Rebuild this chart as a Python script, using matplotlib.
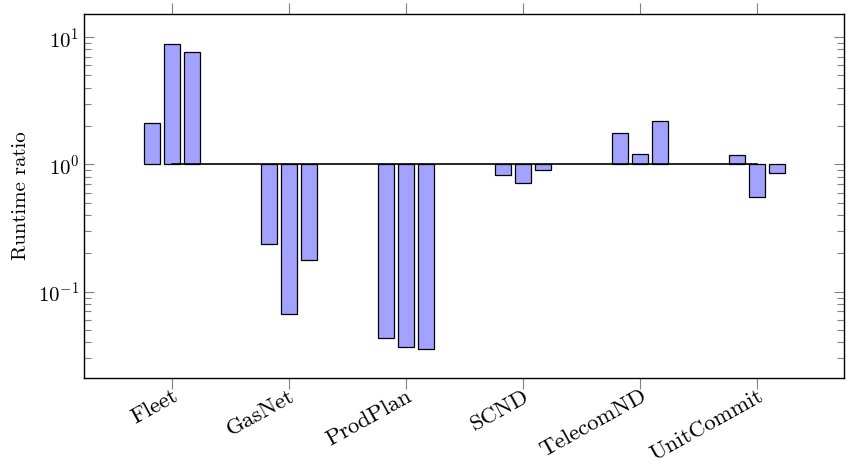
import numpy as np
import matplotlib
matplotlib.use("Agg")
import matplotlib.pyplot as plt
from matplotlib.ticker import LogLocator, NullFormatter

# Runtime ratios per instance family, three runs each
families = ["Fleet", "GasNet", "ProdPlan", "SCND", "TelecomND", "UnitCommit"]
run1 = [2.11, 0.237, 0.0434, 0.819, 1.77, 1.19]
run2 = [8.76, 0.0663, 0.0366, 0.713, 1.21, 0.55]
run3 = [7.66, 0.179, 0.0356, 0.908, 2.19, 0.854]

plt.rcParams["font.family"] = "serif"
plt.rcParams["font.serif"] = ["cmr10"]
plt.rcParams["mathtext.fontset"] = "cm"
plt.rcParams["axes.formatter.use_mathtext"] = True
plt.rcParams["font.size"] = 15

fig = plt.figure(figsize=(8.52, 4.66), dpi=100)
ax = fig.add_axes([84 / 852, 1 - 378 / 466, 760 / 852, 364 / 466])

x = np.arange(len(families))
width = 0.137
offset = 0.171
fill = "#a3a3ff"

# bars grow from 1 on the log axis
for k, vals in enumerate([run1, run2, run3]):
    vals = np.array(vals)
    ax.bar(x + (k - 1) * offset, vals - 1, bottom=1, width=width,
           color=fill, edgecolor="black", linewidth=0.9, zorder=2)

ax.plot([x[0], x[-1]], [1, 1], color="black", linewidth=1.2, zorder=3)

ax.set_yscale("log")
ax.set_ylim(0.021, 15.2)
ax.set_xlim(-0.75, len(families) - 1 + 0.74)

ax.yaxis.set_major_locator(LogLocator(base=10, numticks=10))
ax.yaxis.set_minor_locator(LogLocator(base=10, subs=np.arange(2, 10), numticks=10))
ax.yaxis.set_minor_formatter(NullFormatter())
ax.tick_params(axis="y", which="both", direction="in", left=True, right=True,
               color="#808080")
ax.tick_params(axis="y", which="major", length=7, width=0.8)
ax.tick_params(axis="y", which="minor", length=5, width=0.8)

ax.set_xticks(x)
ax.set_xticklabels(families, rotation=29, ha="right", rotation_mode="anchor",
                   fontsize=16.5)
ax.tick_params(axis="x", which="both", direction="out", top=True, bottom=True,
               length=8, width=0.8, color="#808080", pad=-2)

for s in ax.spines.values():
    s.set_linewidth(1.0)

ax.set_ylabel("Runtime ratio", labelpad=6)

fig.savefig("out.png", dpi=100)
